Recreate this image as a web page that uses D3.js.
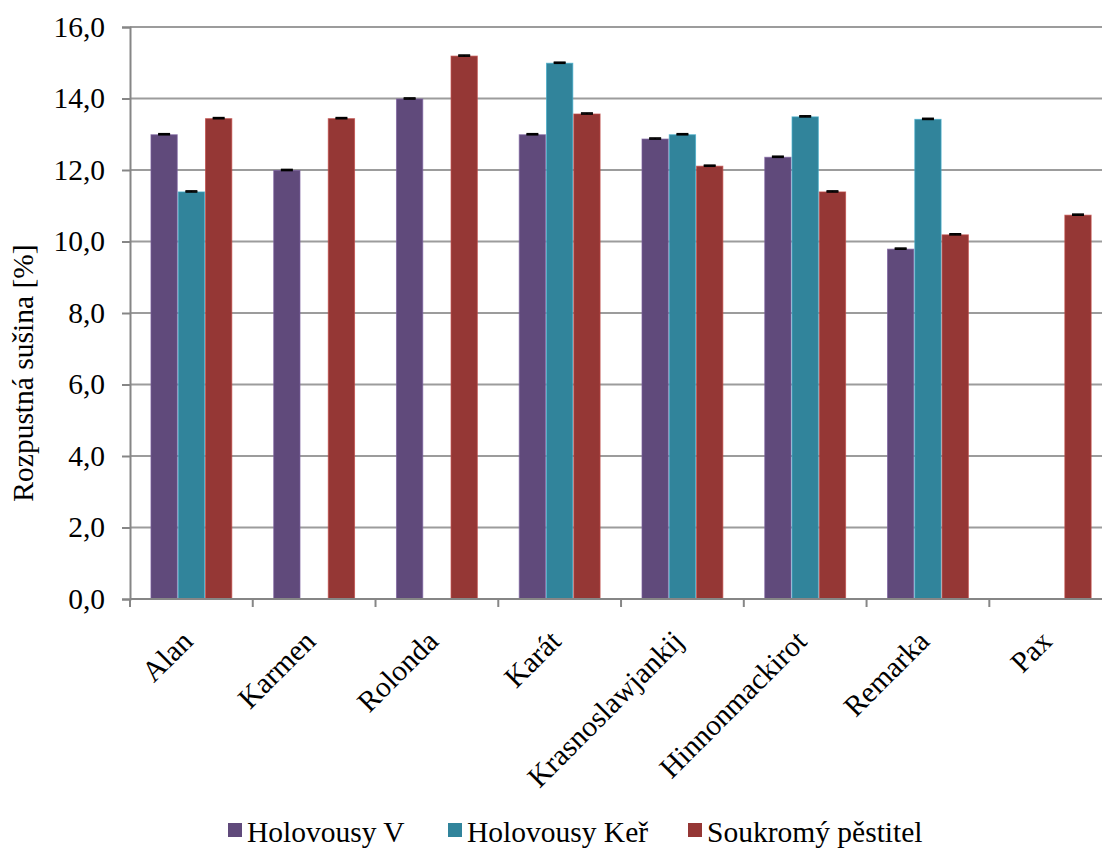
<!DOCTYPE html>
<html>
<head>
<meta charset="utf-8">
<script src="https://cdn.jsdelivr.net/npm/d3@7"></script>
<style>
  html, body { margin: 0; padding: 0; background: #ffffff; }
  svg { display: block; }
  svg text { font-family: "Liberation Serif", Tinos, "Times New Roman", Times, serif !important; fill: #000; }
</style>
</head>
<body>
<script>
// Soluble dry matter by variety and growing site
const categories = ["Alan", "Karmen", "Rolonda", "Karát", "Krasnoslawjankij", "Hinnonmackirot", "Remarka", "Pax"];
const seriesNames = ["Holovousy V", "Holovousy Keř", "Soukromý pěstitel"];
const holovousyV   = [13.0, 12.0, 14.0, 13.0, 12.88, 12.37, 9.8, null];
const holovousyKer = [11.4, null, null, 15.0, 13.0, 13.5, 13.43, null];
const soukromy     = [13.45, 13.45, 15.2, 13.58, 12.12, 11.4, 10.2, 10.75];
const errV   = [0.015, 0.015, 0.015, 0.015, 0.015, 0.015, 0.015, null];
const errKer = [0.015, null, null, 0.015, 0.015, 0.015, 0.015, null];
const errS   = [0.015, 0.015, 0.015, 0.015, 0.015, 0.015, 0.015, 0.015];
const yTicks = [0, 2, 4, 6, 8, 10, 12, 14, 16];
const colors = ["#604a7b", "#31849b", "#953735"];

const W = 1102, H = 848;
const FS = "29.5px";
const svg = d3.select("body").append("svg").attr("width", W).attr("height", H);

const plotLeft = 130, plotTop = 27, plotBottom = 599;
const band = 122.76;
const x = d3.scaleBand().domain(categories).range([plotLeft, plotLeft + band * categories.length]).padding(0);
const y = d3.scaleLinear().domain([0, 16]).range([plotBottom, plotTop]);

// gap width 150 %: bar = band / 4.5, group centred in the band
const inner = d3.scaleBand().domain(seriesNames)
  .range([x.bandwidth() / 6, x.bandwidth() * 5 / 6]).padding(0);

const series = [
  { name: seriesNames[0], values: holovousyV, errs: errV, color: colors[0] },
  { name: seriesNames[1], values: holovousyKer, errs: errKer, color: colors[1] },
  { name: seriesNames[2], values: soukromy, errs: errS, color: colors[2] }
];

// horizontal gridlines
svg.append("g").selectAll("line").data(yTicks.filter(d => d > 0)).join("line")
  .attr("x1", plotLeft).attr("x2", W)
  .attr("y1", d => y(d)).attr("y2", d => y(d))
  .attr("stroke", "#9c9c9c").attr("stroke-width", 2);

// bars
series.forEach(s => {
  const pts = categories.map((c, i) => ({ c, v: s.values[i], e: s.errs[i] })).filter(d => d.v != null);
  const g = svg.append("g");
  g.selectAll("rect").data(pts).join("rect")
    .attr("x", d => x(d.c) + inner(s.name) + 0.5)
    .attr("width", inner.bandwidth() - 1)
    .attr("y", d => y(d.v) + 0.5)
    .attr("height", d => y(0) - y(d.v) - 0.5)
    .attr("fill", s.color)
    .attr("stroke", d3.color(s.color).brighter(0.7))
    .attr("stroke-opacity", 0.7)
    .attr("stroke-width", 1);
  // error bars
  const eg = svg.append("g").attr("stroke", "#000").attr("stroke-width", 1.6);
  pts.filter(d => d.e != null).forEach(d => {
    const cx = x(d.c) + inner(s.name) + inner.bandwidth() / 2;
    eg.append("line").attr("x1", cx).attr("x2", cx).attr("y1", y(d.v - d.e)).attr("y2", y(d.v + d.e));
    eg.append("line").attr("x1", cx - 6).attr("x2", cx + 6).attr("y1", y(d.v + d.e)).attr("y2", y(d.v + d.e));
    eg.append("line").attr("x1", cx - 6).attr("x2", cx + 6).attr("y1", y(d.v - d.e)).attr("y2", y(d.v - d.e));
  });
});

// y axis
const yAxis = svg.append("g").attr("transform", `translate(${plotLeft},0)`)
  .call(d3.axisLeft(y).tickValues(yTicks).tickSize(8).tickPadding(17)
    .tickFormat(d => d3.format(".1f")(d).replace(".", ",")));
yAxis.attr("font-family", null).attr("font-size", null);
yAxis.select(".domain").attr("stroke", "#868686").attr("stroke-width", 2);
yAxis.selectAll(".tick line").attr("stroke", "#868686").attr("stroke-width", 2);
yAxis.selectAll(".tick text").style("font-size", FS).attr("fill", "#000");

// x axis line with ticks at band boundaries
const xg = svg.append("g");
xg.append("line").attr("x1", plotLeft).attr("x2", W).attr("y1", plotBottom).attr("y2", plotBottom)
  .attr("stroke", "#868686").attr("stroke-width", 2);
xg.selectAll("line.tk").data(categories).join("line").attr("class", "tk")
  .attr("x1", d => x(d)).attr("x2", d => x(d))
  .attr("y1", plotBottom).attr("y2", plotBottom + 8)
  .attr("stroke", "#868686").attr("stroke-width", 2);

// rotated category labels
xg.selectAll("text").data(categories).join("text")
  .attr("transform", d => `translate(${x(d) + x.bandwidth() / 2 + 3},${plotBottom + 44}) rotate(-45)`)
  .attr("text-anchor", "end")
  .style("font-size", FS)
  .text(d => d);

// y axis title
svg.append("text")
  .attr("transform", `translate(33,373) rotate(-90)`)
  .attr("text-anchor", "middle")
  .style("font-size", FS)
  .text("Rozpustná sušina [%]");

// legend
const legendX = [228, 448, 688];
const lg = svg.append("g");
series.forEach((s, i) => {
  lg.append("rect").attr("x", legendX[i]).attr("y", 823).attr("width", 14).attr("height", 14).attr("fill", s.color);
  lg.append("text").attr("x", legendX[i] + 19).attr("y", 842).style("font-size", FS).text(s.name);
});
</script>
</body>
</html>
